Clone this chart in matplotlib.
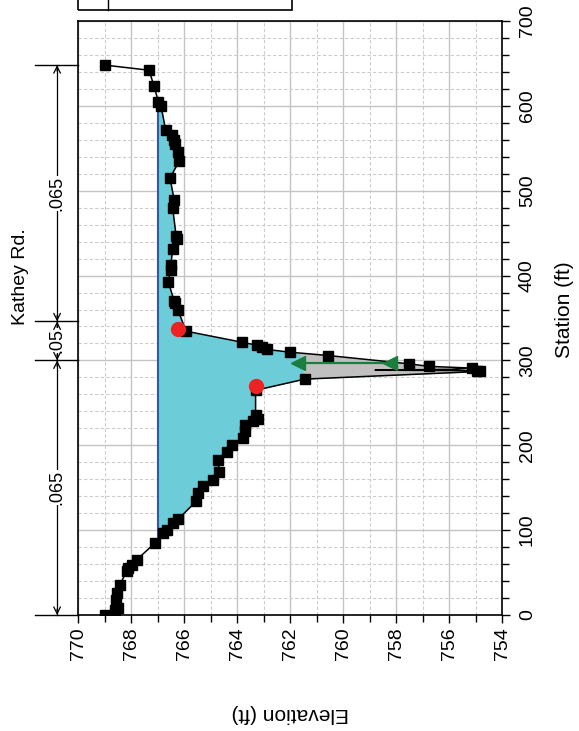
"""
Kathey Rd. cross section (HEC-RAS style), drawn turned on its side:
elevation runs across, station runs up.
"""

import matplotlib
matplotlib.use('Agg')
import matplotlib.pyplot as plt
from matplotlib.ticker import MultipleLocator
from matplotlib.patches import Rectangle, Polygon
from matplotlib.lines import Line2D
import numpy as np

plt.rcParams['font.family'] = ['Liberation Sans', 'DejaVu Sans']

# ground points (station ft, elevation ft)
sta = [0, 5.9, 7.9, 17.7, 25.6, 35.4, 52.3, 55, 59, 65, 84.7, 96.5, 100.4,
       108.3, 113, 133.8, 143.7, 151.5, 158.6, 168, 183, 191.6, 200.7,
       208.6, 216.4, 224, 229, 231, 236, 264.8, 278, 287, 288, 288.5, 289.5,
       291, 293, 296, 305.8, 309.7, 312.9, 315.6, 318, 321.5, 334.5, 359,
       368, 370, 392, 407, 412, 431, 443, 447, 480, 489, 515, 535, 546, 555,
       559.6, 565.5, 571, 600, 605, 623, 642, 648]
elev = [769.0, 768.62, 768.49, 768.58, 768.53, 768.43, 768.17, 768.11,
        767.98, 767.80, 767.11, 766.79, 766.66, 766.42, 766.23, 765.56,
        765.47, 765.28, 764.93, 764.68, 764.72, 764.40, 764.21, 763.80,
        763.71, 763.71, 763.40, 763.21, 763.31, 763.31, 761.45, 754.84,
        754.97, 758.8, 755.9, 755.16, 756.77, 757.52, 760.57, 762.01,
        762.87, 763.08, 763.27, 763.83, 765.94, 766.23, 766.35, 766.38,
        766.60, 766.51, 766.51, 766.44, 766.29, 766.31, 766.44, 766.38,
        766.54, 766.19, 766.23, 766.35, 766.38, 766.48, 766.70, 766.88,
        766.98, 767.14, 767.33, 768.99]
# the two points of the thin sliver near the invert carry no marker
no_marker = [33, 34]

ws_elev = 767.0
ws_sta = [87.5, 606]

# grey pocket in the channel bottom
grey_sta_range = (278, 305.8)
grey_corner = (308.7, 761.63)

# bank stations
bank_sta = [337.3, 270.4]
bank_elev = [766.25, 763.31]

# green markers
green_sta = [297, 297]
green_elev = [761.70, 758.24]

# Manning's n breaks
n_breaks = [0, 300, 346, 648]
n_labels = ['.065', '.05', '.065']

elev_ticks = [770, 768, 766, 764, 762, 760, 758, 756, 754]
sta_ticks = [0, 100, 200, 300, 400, 500, 600, 700]

W, H = 579, 731
fig = plt.figure(figsize=(W / 100, H / 100), dpi=100)
ax = fig.add_axes([78.3 / W, 1 - 615 / H, 424 / W, 594 / H])

ax.set_xlim(770, 754)
ax.set_ylim(0, 700)
ax.set_xticks(elev_ticks)
ax.set_yticks(sta_ticks)
ax.xaxis.set_minor_locator(MultipleLocator(1))
ax.yaxis.set_minor_locator(MultipleLocator(20))
ax.grid(which='major', color='#c4c4c4', lw=1.0, ls='-')
ax.grid(which='minor', color='#cccccc', lw=0.8, ls=(0, (3, 2)))
ax.set_axisbelow(True)

ax.tick_params(axis='x', which='both', direction='out', bottom=True, top=False,
               labelsize=14, labelrotation=90, pad=3)
ax.tick_params(axis='y', which='both', direction='out', left=False, right=True,
               labelleft=False, labelright=True, labelsize=14, labelrotation=90, pad=6)
ax.tick_params(which='major', length=6, width=1)
ax.tick_params(which='minor', length=5, width=1)
for lab in ax.get_yticklabels():
    lab.set_va('center')
for sp in ax.spines.values():
    sp.set_linewidth(1.2)

sta_a = np.array(sta)
elev_a = np.array(elev)

# water
ax.fill_betweenx(sta_a, elev_a, ws_elev, where=elev_a < ws_elev,
                 interpolate=True, color='#6ccdd9', lw=0, zorder=2)

# grey pocket
sel = (sta_a >= grey_sta_range[0]) & (sta_a <= grey_sta_range[1])
pts = list(zip(elev_a[sel], sta_a[sel])) + [(grey_corner[1], grey_corner[0])]
ax.add_patch(Polygon(pts, closed=True, fc='#c0c0c0', ec='none', zorder=3))

ax.plot([ws_elev, ws_elev], ws_sta, color='#3a55a8', lw=1.5, zorder=4)

marked = [i for i in range(len(sta)) if i not in no_marker]
ax.plot(elev, sta, color='black', lw=1.1, marker='s', ms=6.5,
        markevery=marked, zorder=5)

ax.plot(green_elev, green_sta, color='#1b7d3e', lw=1.6, marker='<', ms=10,
        zorder=6)
ax.plot(bank_elev, bank_sta, ls='none', marker='o', color='#ee2222', ms=10,
        zorder=7)

# Manning's n brackets on the left: shaft, label, then the heads on top
tr = ax.get_yaxis_transform()
xb = -0.05
for s in n_breaks:
    ax.plot([-0.103, 0], [s, s], color='black', lw=1, transform=tr,
            clip_on=False)
for i, lab in enumerate(n_labels):
    a, b = n_breaks[i], n_breaks[i + 1]
    ax.plot([xb, xb], [a, b], color='black', lw=0.9, transform=tr,
            clip_on=False, zorder=8)
    ax.text(xb, (a + b) / 2, lab, transform=tr, rotation=90, ha='center',
            va='center', fontsize=13, clip_on=False, zorder=9,
            bbox=dict(fc='white', ec='none', pad=0.0))
    for end, sgn in ((a, 1), (b, -1)):
        ax.annotate('', xy=(xb, end), xytext=(xb, end + sgn * 7),
                    xycoords=tr, textcoords=tr, annotation_clip=False,
                    zorder=10,
                    arrowprops=dict(arrowstyle='->', lw=0.9, color='black',
                                    shrinkA=0, shrinkB=0, mutation_scale=12))

fig.text(21 / W, 1 - 277 / H, 'Kathey Rd.', rotation=90, ha='center',
         va='center', fontsize=14)
fig.text(564 / W, 1 - 310 / H, 'Station (ft)', rotation=90, ha='center',
         va='center', fontsize=15)
fig.text(290 / W, 1 - 713 / H, 'Elevation (ft)', rotation=180, ha='center',
         va='center', fontsize=15)

# legend box, mostly off the top of the page
fig.add_artist(Rectangle((78 / W, 1 - 10 / H), 214 / W, 0.05,
                         transform=fig.transFigure, fill=False, lw=1.2,
                         clip_on=False))
fig.add_artist(Line2D([108 / W, 108 / W], [1 - 10 / H, 1],
                      transform=fig.transFigure, color='black', lw=1))

fig.savefig('out.png', dpi=100)
